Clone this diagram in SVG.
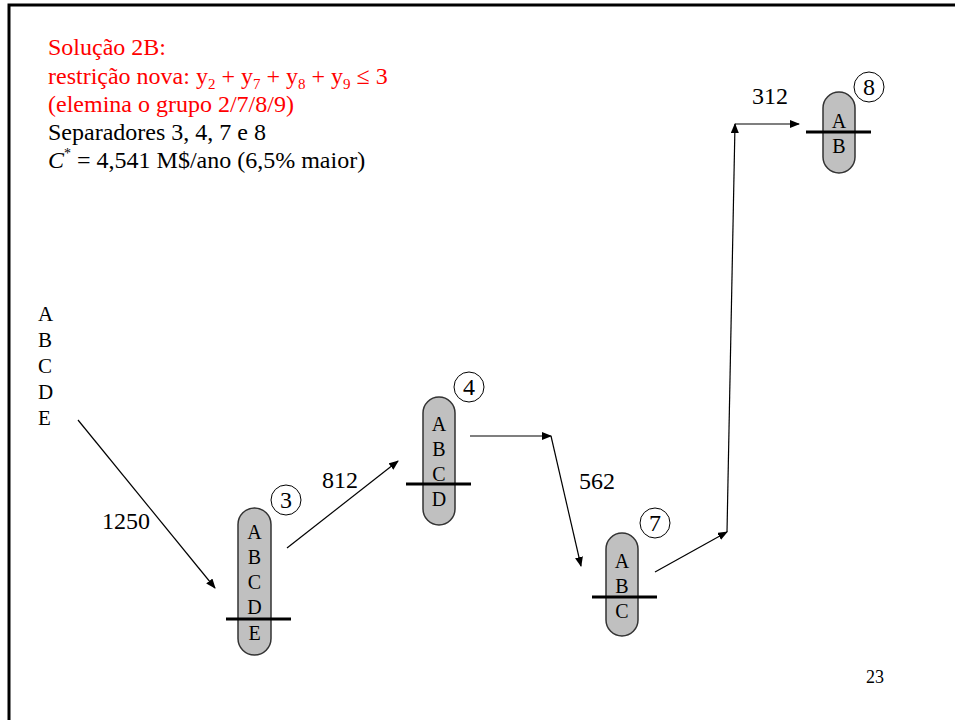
<svg xmlns="http://www.w3.org/2000/svg" width="955" height="720" viewBox="0 0 955 720" font-family="'Liberation Serif', serif">
<defs>
<marker id="ah" markerWidth="10" markerHeight="8" refX="9" refY="4" orient="auto" markerUnits="userSpaceOnUse">
<path d="M0,0 L10,4 L0,8 Z" fill="#000"/>
</marker>
<style>
text{font-family:"Liberation Serif",serif;fill:#000}
.red{fill:#ff0000}
.t{font-size:24px}
.l{font-size:20px}
.n{font-size:24px}
.pill{fill:#c0c0c0;stroke:#333;stroke-width:1.5}
.sep{stroke:#000;stroke-width:3}
.num{fill:#fff;stroke:#000;stroke-width:1}
.c{fill:none;stroke:#000;stroke-width:1.2}
.m{text-anchor:middle}
</style>
</defs>
<rect width="955" height="720" fill="#fff"/>
<path d="M9,720 V5 H955" fill="none" stroke="#000" stroke-width="3"/>

<g id="header" class="t">
<text x="48" y="55" class="red">Solução 2B:</text>
<text x="48" y="84" class="red">restrição nova: y<tspan font-size="15" dy="5">2</tspan><tspan dy="-5"> + y</tspan><tspan font-size="15" dy="5">7</tspan><tspan dy="-5"> + y</tspan><tspan font-size="15" dy="5">8</tspan><tspan dy="-5"> + y</tspan><tspan font-size="15" dy="5">9</tspan><tspan dy="-5"> ≤ 3</tspan></text>
<text x="48" y="112" class="red">(elemina o grupo 2/7/8/9)</text>
<text x="48" y="140">Separadores 3, 4, 7 e 8</text>
<text x="48" y="168"><tspan font-style="italic">C</tspan><tspan font-size="14" dy="-10">*</tspan><tspan dy="10"> = 4,541 M$/ano (6,5% maior)</tspan></text>
</g>

<g id="feed" font-size="21">
<text x="38" y="321">A</text>
<text x="38" y="347">B</text>
<text x="38" y="373">C</text>
<text x="38" y="399">D</text>
<text x="38" y="425">E</text>
</g>

<g id="connectors">
<line x1="78" y1="420" x2="215" y2="588" class="c" marker-end="url(#ah)"/>
<line x1="287" y1="548" x2="398" y2="461" class="c" marker-end="url(#ah)"/>
<line x1="470" y1="436" x2="551" y2="436" class="c" marker-end="url(#ah)"/>
<line x1="551" y1="436" x2="581" y2="566" class="c" marker-end="url(#ah)"/>
<line x1="655" y1="572" x2="727" y2="532" class="c" marker-end="url(#ah)"/>
<line x1="727" y1="532" x2="735" y2="124" class="c" marker-end="url(#ah)"/>
<line x1="735" y1="124" x2="799" y2="124" class="c" marker-end="url(#ah)"/>
<text x="102" y="529" class="t">1250</text>
<text x="322" y="488" class="t">812</text>
<text x="579" y="489" class="t">562</text>
<text x="752" y="104" class="t">312</text>
</g>

<g id="node3">
<rect x="238" y="508" width="33" height="147" rx="16.5" class="pill"/>
<g class="l m">
<text x="254.5" y="539">A</text>
<text x="254.5" y="564">B</text>
<text x="254.5" y="589">C</text>
<text x="254.5" y="614">D</text>
<text x="254.5" y="640">E</text>
</g>
<line x1="226" y1="619" x2="291" y2="619" class="sep"/>
<circle cx="286" cy="500" r="15" class="num"/>
<text x="286" y="508" class="n m">3</text>
</g>

<g id="node4">
<rect x="423" y="397" width="32" height="128" rx="16" class="pill"/>
<g class="l m">
<text x="439" y="431">A</text>
<text x="439" y="456">B</text>
<text x="439" y="481">C</text>
<text x="439" y="506">D</text>
</g>
<line x1="406" y1="484" x2="471" y2="484" class="sep"/>
<circle cx="469" cy="387" r="15" class="num"/>
<text x="469" y="395" class="n m">4</text>
</g>

<g id="node7">
<rect x="606" y="533" width="32" height="103" rx="16" class="pill"/>
<g class="l m">
<text x="622" y="568">A</text>
<text x="622" y="593">B</text>
<text x="622" y="618">C</text>
</g>
<line x1="592" y1="597" x2="657" y2="597" class="sep"/>
<circle cx="655" cy="523" r="15" class="num"/>
<text x="655" y="531" class="n m">7</text>
</g>

<g id="node8">
<rect x="823" y="92" width="32" height="81" rx="16" class="pill"/>
<g class="l m">
<text x="839" y="128">A</text>
<text x="839" y="153">B</text>
</g>
<line x1="806" y1="132" x2="871" y2="132" class="sep"/>
<circle cx="869" cy="87" r="15" class="num"/>
<text x="869" y="95" class="n m">8</text>
</g>

<g id="page">
<text x="866" y="683" font-size="18">23</text>
</g>
</svg>
